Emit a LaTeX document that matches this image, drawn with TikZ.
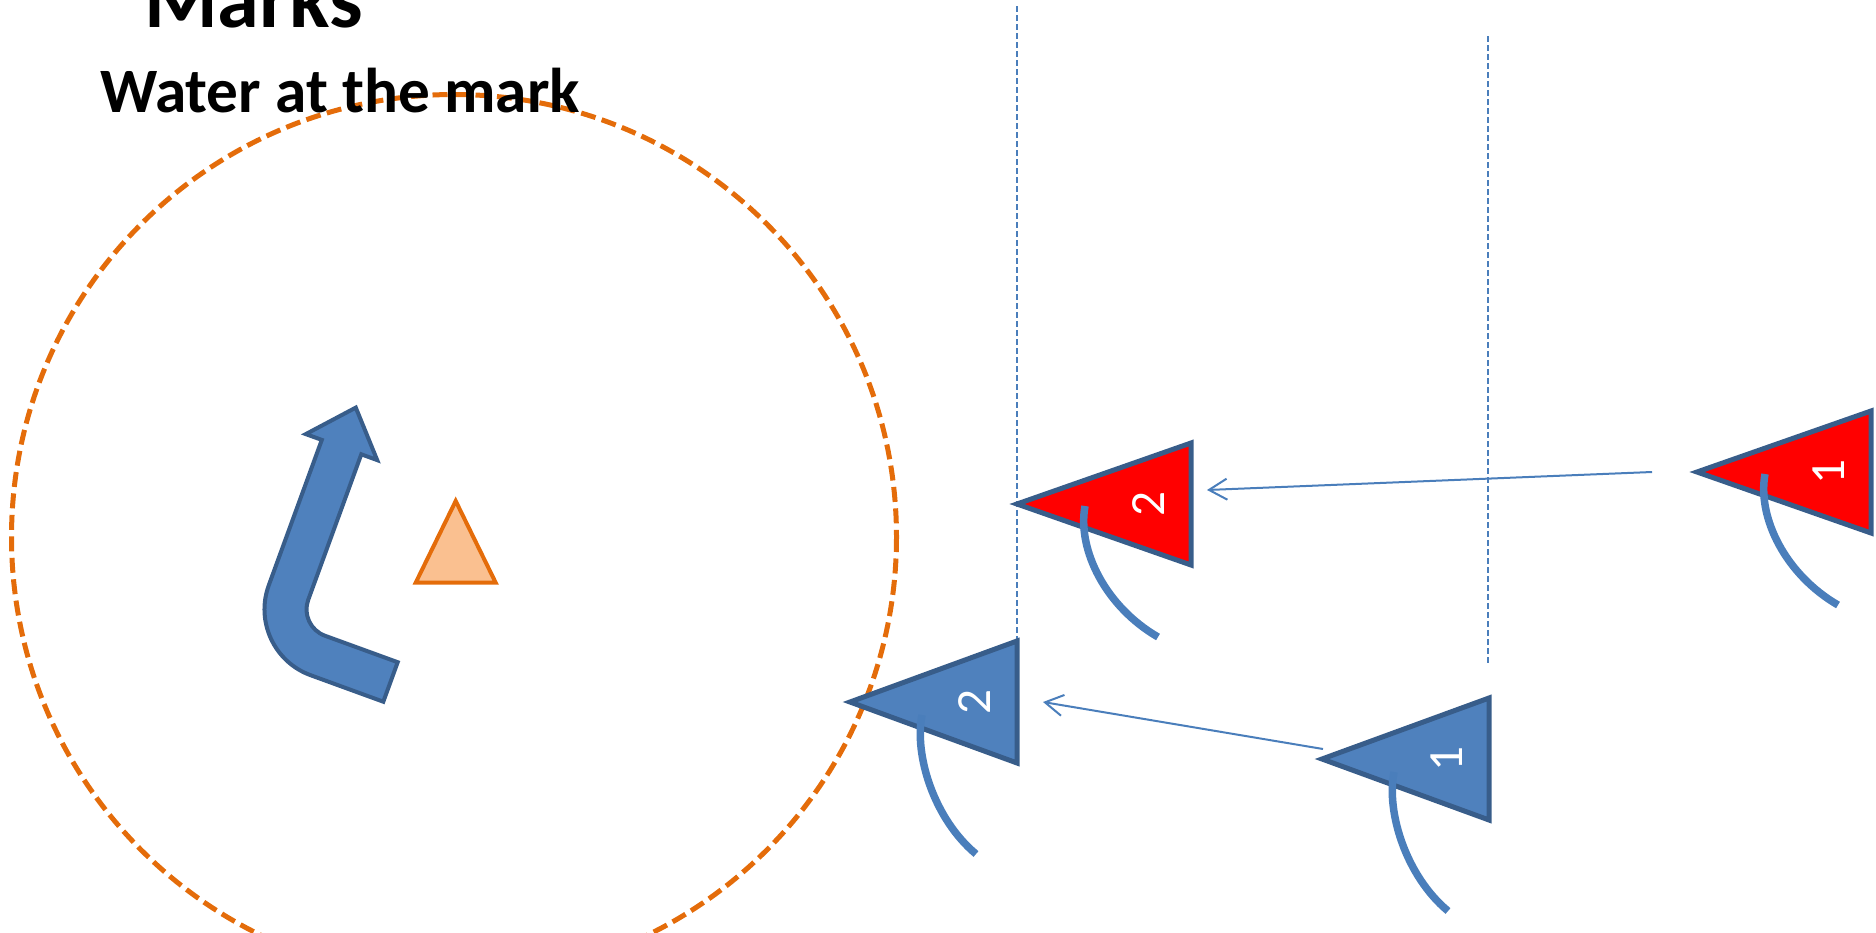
\documentclass[tikz,border=0pt]{standalone}
\usepackage{fontspec}
\setmainfont{Carlito}
\usetikzlibrary{arrows.meta}
\definecolor{boatblue}{HTML}{4F81BD}
\definecolor{boatline}{HTML}{385D8A}
\definecolor{tillerblue}{HTML}{4A7EBB}
\definecolor{markorange}{HTML}{E46C0A}
\definecolor{markfill}{HTML}{FAC090}

\begin{document}
\begin{tikzpicture}[x=0.2mm,y=-0.2mm,line width=0.4mm,>={Straight Barb[length=3.6mm,width=4.2mm]},
  boat/.style={draw=boatline,line width=1mm},
  tiller/.style={draw=tillerblue,line width=1.5mm},
  lane/.style={draw=tillerblue,line width=0.4mm,dash pattern=on 1.2mm off 0.6mm},
  track/.style={draw=tillerblue,line width=0.4mm,->},
  num/.style={text=white,font=\fontsize{28}{28}\selectfont,rotate=90,inner sep=0pt},
  head/.style={anchor=base west,inner sep=0pt,font=\bfseries\fontsize{36}{36}\selectfont}]
\clip (0,0) rectangle (1876,932);
% ---------- zone round the mark ----------
\draw[markorange,line width=1mm,dash pattern=on 3mm off 1.3mm] (454,537) circle[radius=442.5];
\node[head,font=\bfseries\fontsize{48}{48}\selectfont] (title) at (143,27) {Marks};
\node[head] (sub) at (99,112) {Water at the mark};
% mark
\draw[markorange,fill=markfill,line width=0.8mm] (455.7,501) -- (495.7,582.7) -- (415.7,582.7) -- cycle;
% rounding arrow
\draw[boat,line width=0.8mm,fill=boatblue] (383.3,701.7) -- (310.6,675.2)
  .. controls (274.3,662.0) and (255.5,621.8) .. (268.7,585.5) -- (321.8,439.9)
  -- (305.8,434.1) -- (355.8,407.6) -- (377.2,460.1) -- (361.3,454.3) -- (308.2,599.9)
  .. controls (302.9,614.3) and (310.4,630.4) .. (324.9,635.7) -- (397.7,662.2) -- cycle;
% ---------- lanes ----------
\draw[lane] (1017,6) -- (1017,641);
\draw[lane] (1488,36) -- (1488,666);
% ---------- boats ----------
\foreach \nm/\x/\y/\len/\col/\n in {b2/850/702/167/boatblue/2,b1/1322/759/167/boatblue/1,r2/1017/504/174/red/2,r1/1697/472/174/red/1}{
  \coordinate (\nm) at (\x,\y);
  \draw[boat,fill=\col] (\nm) -- ++(\len,-61) -- ++(0,122) -- cycle;
  \node[num] (\nm-num) at ([shift={(\len-42,0)}]\nm) {\n};
}
% tillers
\foreach \nm in {r2,r1}
  \draw[tiller] ([shift={(68,2)}]\nm) .. controls +(-8,44) and +(-52,-30) .. ([shift={(141,133)}]\nm);
\foreach \nm in {b2,b1}
  \draw[tiller] ([shift={(72,13)}]\nm) .. controls +(-8,40) and +(-42,-35) .. ([shift={(126,152)}]\nm);
% ---------- tracks ----------
\coordinate (r1from) at (1652,472);
\coordinate (r2to) at (1207,490);
\draw[track] (r1from) -- (r2to);
\coordinate (b1from) at (1323,749);
\coordinate (b2to) at (1043,702);
\draw[track] (b1from) -- (b2to);
\end{tikzpicture}
\end{document}
